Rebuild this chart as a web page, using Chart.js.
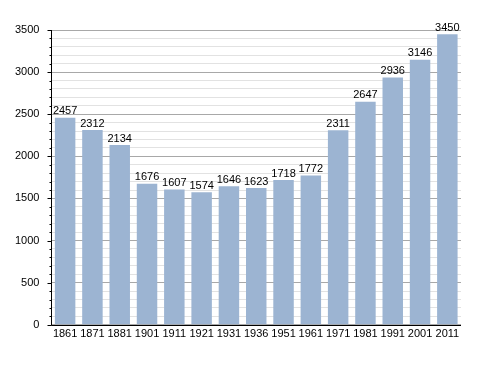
<!DOCTYPE html>
<html>
<head>
<meta charset="utf-8">
<script src="https://cdn.jsdelivr.net/npm/chart.js@4/dist/chart.umd.min.js"></script>
<style>
  html, body { margin: 0; padding: 0; background: #ffffff; }
  #wrap { width: 488px; height: 373px; }
</style>
</head>
<body>
<div id="wrap"><canvas id="c" width="488" height="373"></canvas></div>
<script>
const years = ["1861","1871","1881","1901","1911","1921","1931","1936","1951","1961","1971","1981","1991","2001","2011"];
const population = [2457,2312,2134,1676,1607,1574,1646,1623,1718,1772,2311,2647,2936,3146,3450];
const yMin = 0;
const yMax = 3500;
const yMinorStep = 100;
const yMajorStep = 500;

const FONT = "'Liberation Sans', Arial, Helvetica, sans-serif";

const valueLabels = {
  id: 'valueLabels',
  afterDatasetsDraw(chart) {
    const ctx = chart.ctx;
    const meta = chart.getDatasetMeta(0);
    ctx.save();
    ctx.font = "11px " + FONT;
    ctx.fillStyle = "#000";
    ctx.textAlign = "center";
    ctx.textBaseline = "bottom";
    meta.data.forEach((bar, i) => {
      ctx.fillText(String(population[i]), bar.x, bar.y - 1);
    });
    ctx.restore();
  }
};

const axesAndTicks = {
  id: 'axesAndTicks',
  afterDraw(chart) {
    const ctx = chart.ctx;
    const ys = chart.scales.y;
    const a = chart.chartArea;
    ctx.save();
    ctx.strokeStyle = "#000";
    ctx.lineWidth = 1;
    ctx.beginPath();
    const x0 = Math.round(a.left) + 0.5;
    const yb = Math.round(ys.getPixelForValue(0)) + 0.5;
    ctx.moveTo(x0, Math.round(ys.getPixelForValue(yMax)));
    ctx.lineTo(x0, yb);
    ctx.lineTo(a.right, yb);
    for (let v = yMin; v <= yMax; v += yMinorStep) {
      const py = Math.round(ys.getPixelForValue(v)) + 0.5;
      const len = (v % yMajorStep === 0) ? 4 : 2;
      ctx.moveTo(x0 - len, py);
      ctx.lineTo(x0, py);
    }
    ctx.stroke();
    ctx.restore();
  }
};

new Chart(document.getElementById('c'), {
  type: 'bar',
  data: {
    labels: years,
    datasets: [{
      data: population,
      backgroundColor: '#9cb4d2',
      borderWidth: 0,
      barPercentage: 0.75,
      categoryPercentage: 1.0
    }]
  },
  options: {
    responsive: false,
    animation: false,
    devicePixelRatio: 1,
    layout: { padding: { left: 3, right: 27, top: 30, bottom: 29 } },
    plugins: { legend: { display: false }, tooltip: { enabled: false } },
    scales: {
      x: {
        grid: { display: false, drawTicks: false },
        border: { display: false },
        ticks: { color: '#000', font: { family: FONT, size: 11 }, padding: 3, maxRotation: 0, autoSkip: false }
      },
      y: {
        min: yMin,
        max: yMax,
        border: { display: false },
        grid: {
          drawTicks: false,
          color: (c) => (c.tick && c.tick.value % yMajorStep === 0) ? '#a8a8a8' : '#e2e2e2',
          lineWidth: 1
        },
        ticks: {
          stepSize: yMinorStep,
          autoSkip: false,
          color: '#000',
          font: { family: FONT, size: 11 },
          padding: 12,
          callback: (v) => (v % yMajorStep === 0) ? String(v) : ''
        }
      }
    }
  },
  plugins: [valueLabels, axesAndTicks]
});
</script>
</body>
</html>
